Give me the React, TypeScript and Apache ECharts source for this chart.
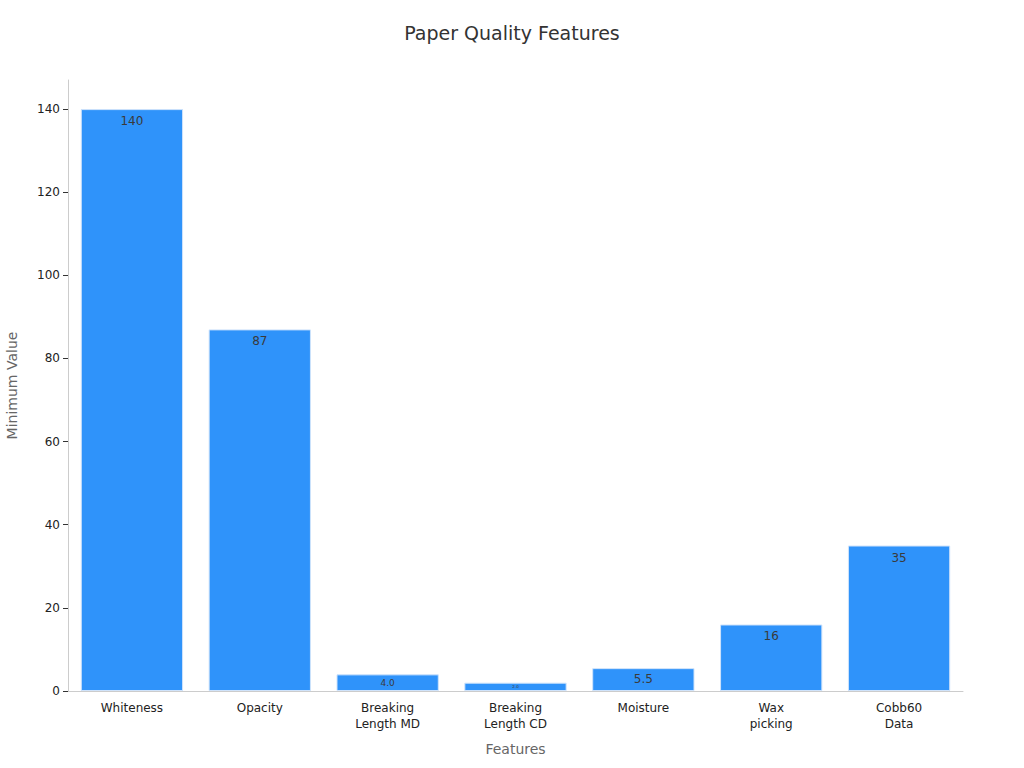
import { useEffect, useRef } from 'react'
import * as echarts from 'echarts'

const categories = ['Whiteness', 'Opacity', 'Breaking\nLength MD', 'Breaking\nLength CD', 'Moisture', 'Wax\npicking', 'Cobb60\nData']
const values = [140, 87, 4.0, 2.0, 5.5, 16, 35]
const labelTexts = ['140', '87', '4.0', '2.0', '5.5', '16', '35']
const labelSizes = [12, 12, 9, 4, 12, 12, 12]
const labelGaps = [6, 6, 4, 2, 5, 6, 6]
const yTicks = [0, 20, 40, 60, 80, 100, 120, 140]

export default function App() {
  const chartRef = useRef<HTMLDivElement>(null)

  useEffect(() => {
    document.body.style.margin = '0'
    if (!chartRef.current) return
    const chart = echarts.init(chartRef.current, undefined, { renderer: 'svg' })

    const font = "'DejaVu Sans', sans-serif"

    const option: echarts.EChartsOption = {
      animation: false,
      backgroundColor: '#ffffff',
      textStyle: { fontFamily: font },
      title: {
        text: 'Paper Quality Features',
        left: 'center',
        top: 18,
        textStyle: { fontSize: 19, fontWeight: 'normal', color: '#333333', fontFamily: font },
      },
      grid: { left: 68, right: 61, top: 80, bottom: 77, outerBoundsMode: 'none' } as any,
      xAxis: {
        type: 'category',
        data: categories,
        name: 'Features',
        nameLocation: 'middle',
        nameGap: 51,
        nameTextStyle: { color: '#666666', fontSize: 14 },
        axisLine: { lineStyle: { color: '#cccccc' } },
        axisTick: { alignWithLabel: true, lineStyle: { color: '#333333' }, length: 5 },
        axisLabel: { color: '#222222', fontSize: 12, interval: 0, lineHeight: 16, margin: 9 },
      },
      yAxis: {
        type: 'value',
        min: 0,
        max: 147,
        name: 'Minimum Value',
        nameLocation: 'middle',
        nameGap: 49,
        nameTextStyle: { color: '#666666', fontSize: 14 },
        axisLine: { show: true, lineStyle: { color: '#cccccc' } },
        axisTick: { show: true, lineStyle: { color: '#333333' }, length: 5, customValues: yTicks } as any,
        axisLabel: { color: '#222222', fontSize: 12, customValues: yTicks } as any,
        splitLine: { show: false },
      },
      series: [
        {
          type: 'bar',
          barCategoryGap: '20%',
          data: values.map((v, i) => ({
            value: v,
            label: { fontSize: labelSizes[i], distance: labelGaps[i] },
          })),
          itemStyle: { color: '#2f93fa', borderColor: '#cfe3fb', borderWidth: 1 },
          label: {
            show: true,
            position: 'insideTop',
            color: '#3a3a3a',
            formatter: (p: any) => labelTexts[p.dataIndex],
          },
        },
      ],
    }

    chart.setOption(option)
    return () => chart.dispose()
  }, [])

  return <div ref={chartRef} style={{ width: 1024, height: 768 }} />
}
